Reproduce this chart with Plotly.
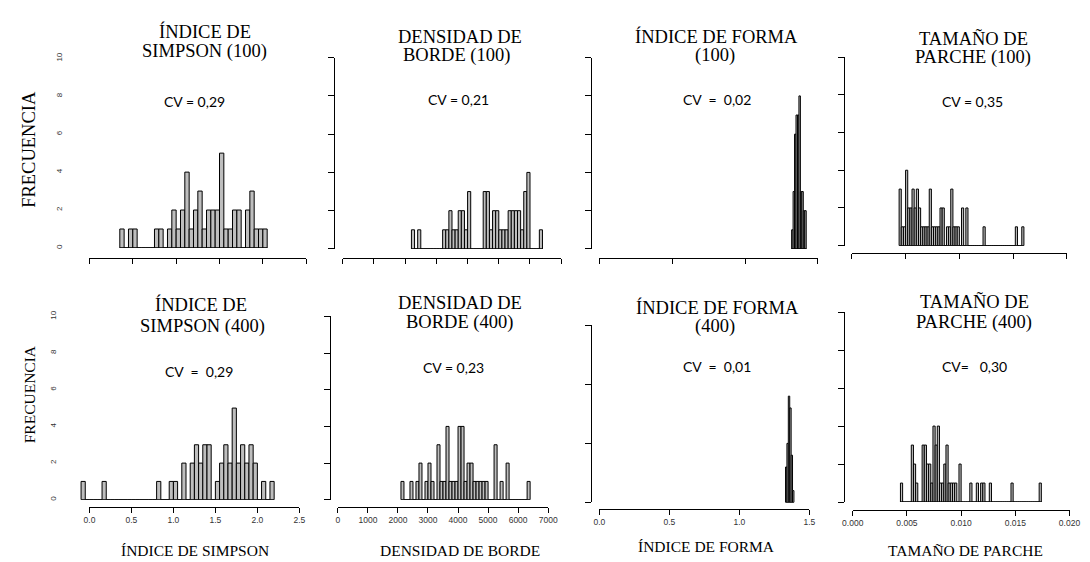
import plotly.graph_objects as go

W, H = 1090, 562

# ---------------- data (histogram counts) ----------------
# ÍNDICE DE SIMPSON (100): bins of 0.05 starting at 0.35
simpson100_lo, simpson100_bw = 0.35, 0.05
simpson100_counts = [1, 0, 1, 1, 0, 0, 0, 0, 1, 1, 0, 1, 2, 1, 2, 4, 1, 2, 3, 1,
                     2, 2, 2, 5, 1, 1, 2, 2, 0, 2, 3, 1, 1, 1]

# DENSIDAD DE BORDE (100): bins of 100 starting at 2200
borde100_lo, borde100_bw = 2200, 100
borde100_counts = [1, 0, 1, 0, 0, 0, 0, 0, 0, 0,
                   1, 1, 2, 1, 1, 2, 2, 1, 3,
                   0, 0, 0, 0,
                   3, 3, 1, 2, 2, 1, 1, 1, 2, 2, 2, 2, 1, 3, 4, 0, 0, 0, 1]

# ÍNDICE DE FORMA (100): bins of 0.01 starting at 1.32
forma100_lo, forma100_bw = 1.32, 0.01
forma100_counts = [1, 3, 6, 7, 7, 8, 3, 3, 2, 2]

# TAMAÑO DE PARCHE (100): bins of 0.0002 starting at 0.0044
parche100_lo, parche100_bw = 0.0044, 0.0002
parche100_counts = [3, 1, 1, 4, 2, 2, 3, 2, 3, 2, 1, 1, 1, 1, 3, 1, 1, 1, 1, 2,
                    2, 0, 1, 1, 3, 1, 1, 1, 0, 2, 0, 2,
                    0, 0, 0, 0, 0, 0, 0, 1,
                    0, 0, 0, 0, 0, 0, 0, 0, 0, 0, 0, 0, 0, 0, 1, 0, 0, 1]

# ÍNDICE DE SIMPSON (400): bins of 0.05 starting at -0.10
simpson400_lo, simpson400_bw = -0.10, 0.05
simpson400_counts = [1, 0, 0, 0, 0, 1,
                     0, 0, 0, 0, 0, 0, 0, 0, 0, 0, 0, 0,
                     1, 0, 0, 1, 1, 0, 2, 0, 2, 3, 2, 3, 3, 0, 1, 2, 3, 2, 5, 2,
                     3, 2, 3, 2, 0, 1, 0, 1]

# DENSIDAD DE BORDE (400): bins of 100 starting at 2100
borde400_lo, borde400_bw = 2100, 100
borde400_counts = [1, 0, 0, 1, 0, 1, 2, 0, 1, 2, 1, 0, 3, 1, 1, 4, 1, 1, 1, 4,
                   4, 1, 2, 2, 1, 1, 1, 1, 1, 0, 0, 3, 0, 1, 0, 2, 0, 0, 0, 0,
                   0, 0, 1]

# ÍNDICE DE FORMA (400): bins of 0.01 starting at 1.33
forma400_lo, forma400_bw = 1.33, 0.01
forma400_counts = [3, 5, 9, 8, 4, 1]

# TAMAÑO DE PARCHE (400): bins of 0.0002 starting at 0.0044
parche400_lo, parche400_bw = 0.0044, 0.0002
parche400_counts = [1, 0, 0, 0, 0, 3, 2, 1, 0, 0, 3, 3, 2, 2, 1, 4, 3, 4, 1, 1,
                    2, 3, 1, 1, 1, 1, 0, 2, 0, 0, 0, 0, 1, 0, 0, 1, 0, 1, 1, 0,
                    0, 1, 0, 0, 0, 0, 0, 0, 0, 0, 0, 1, 0, 0, 0, 0, 0, 0, 0, 0,
                    0, 0, 0, 0, 1]

# axis ticks / labels
simpson_ticks = [0.0, 0.5, 1.0, 1.5, 2.0, 2.5]
simpson_ticktext = ["0.0", "0.5", "1.0", "1.5", "2.0", "2.5"]
borde_ticks = [0, 1000, 2000, 3000, 4000, 5000, 6000, 7000]
borde_ticktext = ["0", "1000", "2000", "3000", "4000", "5000", "6000", "7000"]
forma_ticks = [0.0, 0.5, 1.0, 1.5]
forma_ticktext = ["0.0", "0.5", "1.0", "1.5"]
parche_ticks = [0.000, 0.005, 0.010, 0.015, 0.020]
parche_ticktext = ["0.000", "0.005", "0.010", "0.015", "0.020"]
freq_ticks = [0, 2, 4, 6, 8, 10]
freq_ticktext = ["0", "2", "4", "6", "8", "10"]
freq15_ticks = [0, 5, 10, 15]

titles_l1 = ["ÍNDICE DE", "DENSIDAD DE", "ÍNDICE DE FORMA", "TAMAÑO DE",
             "ÍNDICE DE", "DENSIDAD DE", "ÍNDICE DE FORMA", "TAMAÑO DE"]
titles_l2 = ["SIMPSON (100)", "BORDE (100)", "(100)", "PARCHE (100)",
             "SIMPSON (400)", "BORDE (400)", "(400)", "PARCHE (400)"]
cv_texts = ["CV = 0,29", "CV = 0,21", "CV\u00a0 = \u00a00,02", "CV = 0,35",
            "CV\u00a0 = \u00a00,29", "CV = 0,23", "CV\u00a0 = \u00a00,01", "CV=\u00a0\u00a0 0,30"]
xtitles = ["ÍNDICE DE SIMPSON", "DENSIDAD DE BORDE", "ÍNDICE DE FORMA", "TAMAÑO DE PARCHE"]
ytitle = "FRECUENCIA"

# ---------------- layout geometry (pixels) ----------------
def fx(px):
    return px / W

def fy(py):
    return 1 - py / H

panels = [
    dict(lo=simpson100_lo, bw=simpson100_bw, counts=simpson100_counts,
         xt=simpson_ticks, xtt=simpson_ticktext, x0=80, x1=301, y0=245, y1=53,
         ymax=10, yt=freq_ticks, xline=255, yline=None, ylab=54, labels=False),
    dict(lo=borde100_lo, bw=borde100_bw, counts=borde100_counts,
         xt=borde_ticks, xtt=borde_ticktext, x0=338.3, x1=561, y0=246, y1=52.3,
         ymax=10, yt=freq_ticks, xline=255, yline=329, labels=False),
    dict(lo=forma100_lo, bw=forma100_bw, counts=forma100_counts,
         xt=forma_ticks, xtt=forma_ticktext, x0=600, x1=822.7, y0=246, y1=52.3,
         ymax=10, yt=freq_ticks, xline=255, yline=591, labels=False),
    dict(lo=parche100_lo, bw=parche100_bw, counts=parche100_counts,
         xt=parche_ticks, xtt=parche_ticktext, x0=857.3, x1=1076.7, y0=242.7, y1=51.7,
         ymax=10, yt=freq_ticks, xline=250, yline=849.3, labels=False),
    dict(lo=simpson400_lo, bw=simpson400_bw, counts=simpson400_counts,
         xt=simpson_ticks, xtt=simpson_ticktext, x0=80, x1=294, y0=500, y1=314.3,
         ymax=10, yt=freq_ticks, xline=507.3, yline=None, ylab=47, labels=True),
    dict(lo=borde400_lo, bw=borde400_bw, counts=borde400_counts,
         xt=borde_ticks, xtt=borde_ticktext, x0=333.3, x1=547.7, y0=500, y1=314.3,
         ymax=10, yt=freq_ticks, xline=507.3, yline=325, labels=True),
    dict(lo=forma400_lo, bw=forma400_bw, counts=forma400_counts,
         xt=forma_ticks, xtt=forma_ticktext, x0=600, x1=814, y0=502.7, y1=323.3,
         ymax=15, yt=freq15_ticks, xline=509.3, yline=591, labels=True),
    dict(lo=parche400_lo, bw=parche400_bw, counts=parche400_counts,
         xt=parche_ticks, xtt=parche_ticktext, x0=858.3, x1=1079.3, y0=502.3, y1=310,
         ymax=10, yt=freq_ticks, xline=510, yline=849.3, labels=True),
]

title_pos = [  # (cx, baseline line1, cx2, baseline line2)
    (198, 31.7, 197.5, 52.7), (458, 37.3, 454, 56.7), (719, 36.7, 718, 56.5), (981.5, 39.3, 981, 58),
    (194, 308.3, 195, 331), (457.5, 307.3, 457.5, 326.7), (720.8, 311.7, 718, 330.5), (982.5, 306, 981.7, 327),
]
cv_pos = [(187.5, 101.7), (456, 100), (720, 100), (980, 102),
          (191.5, 375), (451.7, 371.7), (720, 370), (982.5, 370)]
xtitle_pos = [(187.5, 556.7), (457.5, 556.7), (709, 553), (973.5, 556.7)]

SERIF = "Liberation Serif, Times New Roman, serif"
SANS = "Liberation Sans, Arial, sans-serif"
CVFONT = "Lato, Open Sans, sans-serif"

fig = go.Figure()
layout = dict(width=W, height=H, margin=dict(l=0, r=0, t=0, b=0),
              paper_bgcolor="white", plot_bgcolor="rgba(0,0,0,0)", showlegend=False)
annotations = []

for n, p in enumerate(panels, start=1):
    xb = 2 * n - 1
    xtk = 2 * n
    v0, v1 = p["xt"][0], p["xt"][-1]
    scale = (p["x1"] - p["x0"]) / (v1 - v0)
    extL = min(20, p["x0"] - 1)
    extR = min(10, W - p["x1"] - 1)
    centers = [p["lo"] + p["bw"] * (i + 0.5) for i in range(len(p["counts"]))]
    hi = p["lo"] + p["bw"] * len(p["counts"])

    fig.add_trace(go.Scatter(x=[v0, v1], y=[0, 0], mode="markers",
                             marker=dict(opacity=0, size=1),
                             xaxis=f"x{xtk}", yaxis=f"y{n}", hoverinfo="skip"))
    fig.add_trace(go.Scatter(x=[p["lo"], hi], y=[0, 0], mode="lines",
                             line=dict(color="black", width=1),
                             xaxis=f"x{xb}", yaxis=f"y{n}", hoverinfo="skip"))
    fig.add_trace(go.Bar(x=centers, y=p["counts"], width=p["bw"],
                         marker=dict(color="#bebebe", line=dict(color="black", width=1)),
                         xaxis=f"x{xb}", yaxis=f"y{n}"))

    layout[f"xaxis{xb}"] = dict(
        domain=[fx(p["x0"] - extL), fx(p["x1"] + extR)],
        range=[v0 - extL / scale, v1 + extR / scale],
        anchor=f"y{n}", visible=False, fixedrange=True)
    layout[f"xaxis{xtk}"] = dict(
        domain=[fx(p["x0"]), fx(p["x1"])], range=[v0, v1],
        anchor="free", position=fy(p["xline"]),
        showline=True, linecolor="black", linewidth=1,
        ticks="outside", ticklen=5, tickwidth=1, tickcolor="black",
        tickvals=p["xt"], ticktext=p["xtt"], showticklabels=p["labels"],
        tickfont=dict(family=SANS, size=8.5, color="#333"),
        showgrid=False, zeroline=False, fixedrange=True)
    yd = dict(domain=[fy(p["y0"]), fy(p["y1"])], range=[0, p["ymax"]],
              anchor="free", showgrid=False, zeroline=False, fixedrange=True,
              tickvals=p["yt"])
    if p["yline"] is None:
        yd.update(position=fx(p["ylab"]), showline=False, ticks="",
                  showticklabels=True, ticktext=freq_ticktext, tickangle=-90,
                  tickfont=dict(family=SANS, size=8, color="#333"))
    else:
        yd.update(position=fx(p["yline"]), showline=True, linecolor="black", linewidth=1,
                  ticks="outside", ticklen=6, tickwidth=1, tickcolor="black",
                  showticklabels=False)
    layout[f"yaxis{n}"] = yd

def add_text(text, cx, base, size, family, ratio, angle=0):
    annotations.append(dict(text=text, x=fx(cx), y=fy(base - ratio * size), xref="paper",
                            yref="paper", showarrow=False, xanchor="center",
                            yanchor="middle", textangle=angle,
                            font=dict(family=family, size=size, color="black")))

for i in range(8):
    cx1, b1, cx2, b2 = title_pos[i]
    add_text(titles_l1[i], cx1, b1, 18.5, SERIF, 0.34)
    add_text(titles_l2[i], cx2, b2, 18.5, SERIF, 0.34)
    cx, b = cv_pos[i]
    add_text(cv_texts[i], cx, b, 14, CVFONT, 0.37)

for i in range(4):
    cx, b = xtitle_pos[i]
    add_text(xtitles[i], cx, b, 15.5, SERIF, 0.34)

# y titles (rotated)
annotations.append(dict(text=ytitle, x=fx(19), y=fy(145), xref="paper", yref="paper",
                        showarrow=False, xanchor="center", yanchor="middle", textangle=-90,
                        font=dict(family=SERIF, size=18.5, color="black")))
annotations.append(dict(text=ytitle, x=fx(18.5), y=fy(393), xref="paper", yref="paper",
                        showarrow=False, xanchor="center", yanchor="middle", textangle=-90,
                        font=dict(family=SERIF, size=15.5, color="black")))

layout["annotations"] = annotations
fig.update_layout(**layout)
fig.write_html("out.html")
